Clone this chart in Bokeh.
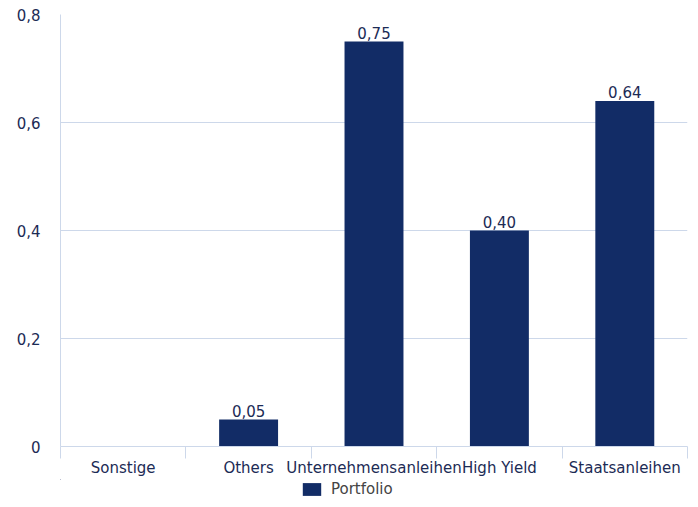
import numpy as np
from bokeh.plotting import figure
from bokeh.layouts import column
from bokeh.models import (ColumnDataSource, FixedTicker, Range1d,
                          Legend, LegendItem, LabelSet)
from bokeh.core.properties import value
from bokeh.embed import file_html
from bokeh.resources import INLINE

categories = ["Sonstige", "Others", "Unternehmensanleihen", "High Yield", "Staatsanleihen"]
portfolio = [0.0, 0.05, 0.75, 0.40, 0.64]
y_ticks = [0, 0.2, 0.4, 0.6, 0.8]
y_tick_labels = ["0", "0,2", "0,4", "0,6", "0,8"]
series_name = "Portfolio"

NAVY = "#122c66"
TEXT = "#1c2b55"
GRID = "#cdd8ea"
FONT = "DejaVu Sans"
FS = "15px"

xs = np.arange(len(categories)) + 0.5
labels = [("%.2f" % v).replace(".", ",") if v > 0 else "" for v in portfolio]
src = ColumnDataSource(dict(x=xs, top=portfolio, lab=labels, cat=categories))

p = figure(width=698, height=479, output_backend="svg", toolbar_location=None,
           x_range=Range1d(0, len(categories)), y_range=Range1d(0, 0.8),
           min_border_left=60, min_border_right=11, min_border_top=14, min_border_bottom=33)
p.outline_line_color = None
p.background_fill_color = "white"
p.border_fill_color = "white"

r = p.vbar(x="x", top="top", width=0.47, source=src, fill_color=NAVY, line_color=None)

p.add_layout(LabelSet(x="x", y="top", text="lab", source=src, text_align="center",
                      text_baseline="bottom", y_offset=3, text_font_size=FS,
                      text_font=value(FONT), text_color=TEXT))

# y axis
p.yaxis.ticker = FixedTicker(ticks=y_ticks)
p.yaxis.major_label_overrides = {t: l for t, l in zip(y_ticks, y_tick_labels)}
p.yaxis.axis_line_color = GRID
p.yaxis.major_tick_line_color = None
p.yaxis.minor_tick_line_color = None
p.yaxis.major_tick_out = 0
p.yaxis.major_label_text_font = FONT
p.yaxis.major_label_text_font_size = FS
p.yaxis.major_label_text_color = TEXT
p.yaxis.major_label_standoff = 20

# x axis
p.xaxis.ticker = FixedTicker(ticks=list(xs), minor_ticks=list(range(len(categories) + 1)))
p.xaxis.major_label_overrides = {float(x): c for x, c in zip(xs, categories)}
p.xaxis.axis_line_color = GRID
p.xaxis.major_tick_line_color = None
p.xaxis.minor_tick_line_color = GRID
p.xaxis.minor_tick_out = 12
p.xaxis.minor_tick_in = 0
p.xaxis.major_tick_out = 0
p.xaxis.major_tick_in = 0
p.xaxis.major_label_text_font = FONT
p.xaxis.major_label_text_font_size = FS
p.xaxis.major_label_text_color = TEXT
p.xaxis.major_label_standoff = 0

p.xgrid.grid_line_color = None
p.ygrid.ticker = FixedTicker(ticks=y_ticks)
p.ygrid.grid_line_color = GRID

# legend strip (bars fall far outside this strip's visible ranges; only the legend shows)
p2 = figure(width=698, height=22, output_backend="svg", toolbar_location=None,
            min_border=0, x_axis_type=None, y_axis_type=None,
            x_range=Range1d(100, 101), y_range=Range1d(-2, -1))
p2.outline_line_color = None
p2.xgrid.visible = False
p2.ygrid.visible = False
r2 = p2.vbar(x="x", top="top", width=0.47, source=src, fill_color=NAVY, line_color=None)
legend = Legend(items=[LegendItem(label=series_name, renderers=[r2])],
                location=(240, 3), orientation="horizontal",
                label_text_font=FONT, label_text_font_size=FS, label_text_color="#444444",
                glyph_width=23, glyph_height=16, label_height=16, padding=0, margin=0, spacing=0,
                label_standoff=8,
                border_line_color=None, background_fill_alpha=0)
p2.add_layout(legend, "center")

layout = column(p, p2, spacing=0)
open("out.html", "w").write(file_html(layout, INLINE))
